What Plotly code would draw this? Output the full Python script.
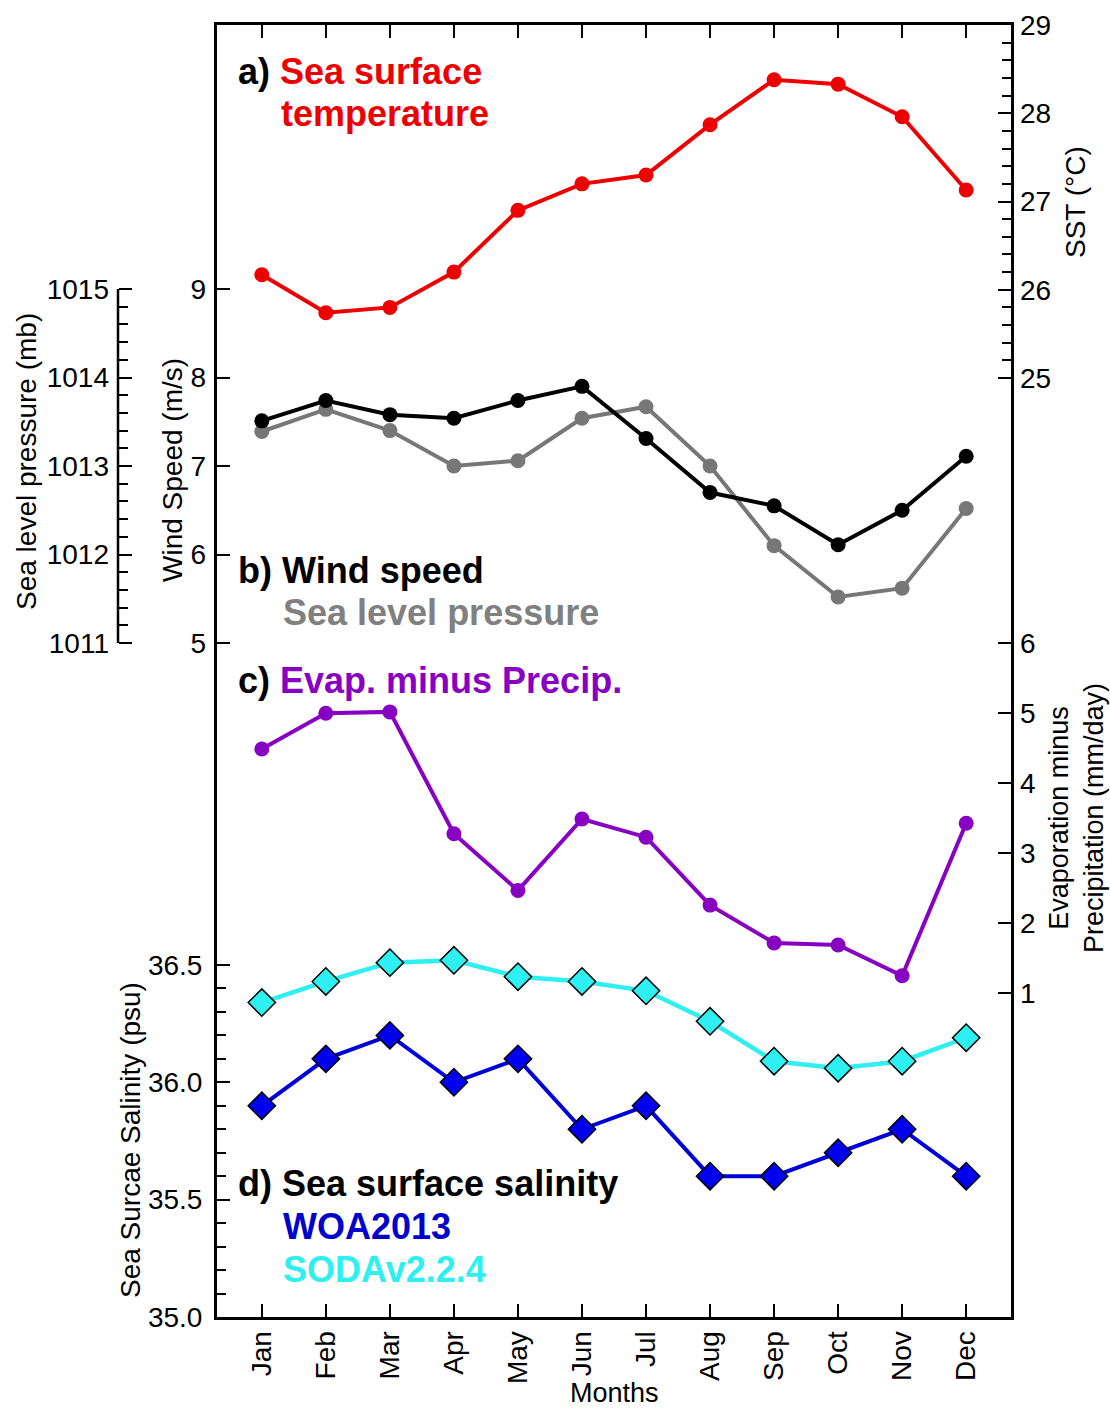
import plotly.graph_objects as go

# ---------------- data ----------------
months = ["Jan", "Feb", "Mar", "Apr", "May", "Jun", "Jul", "Aug", "Sep", "Oct", "Nov", "Dec"]
sst = [26.17, 25.74, 25.80, 26.20, 26.90, 27.20, 27.30, 27.87, 28.38, 28.33, 27.96, 27.13]
wind = [7.51, 7.74, 7.58, 7.54, 7.74, 7.90, 7.31, 6.70, 6.55, 6.11, 6.50, 7.11]
slp = [1013.39, 1013.64, 1013.40, 1013.00, 1013.06, 1013.54, 1013.67, 1013.00,
       1012.10, 1011.52, 1011.62, 1012.52]
emp = [4.49, 5.00, 5.02, 3.28, 2.47, 3.49, 3.23, 2.26, 1.72, 1.69, 1.25, 3.43]
sss_woa = [35.9, 36.1, 36.2, 36.0, 36.1, 35.8, 35.9, 35.6, 35.6, 35.7, 35.8, 35.6]
sss_soda = [36.34, 36.43, 36.51, 36.52, 36.45, 36.43, 36.39, 36.26, 36.09, 36.06, 36.09, 36.19]

sst_ticks = [25, 26, 27, 28, 29]
sst_minor = [25.2, 25.4, 25.6, 25.8, 26.2, 26.4, 26.6, 26.8, 27.2, 27.4, 27.6, 27.8,
             28.2, 28.4, 28.6, 28.8]
wind_ticks = [5, 6, 7, 8, 9]
slp_ticks = [1011, 1012, 1013, 1014, 1015]
slp_minor = [1011.2, 1011.4, 1011.6, 1011.8, 1012.2, 1012.4, 1012.6, 1012.8,
             1013.2, 1013.4, 1013.6, 1013.8, 1014.2, 1014.4, 1014.6, 1014.8]
emp_ticks = [1, 2, 3, 4, 5, 6]
sss_ticks = [35.0, 35.5, 36.0, 36.5]
sss_ticktext = ["35.0", "35.5", "36.0", "36.5"]
sss_minor = [35.1, 35.2, 35.3, 35.4, 35.6, 35.7, 35.8, 35.9, 36.1, 36.2, 36.3, 36.4]

# ---------------- geometry ----------------
W, H = 1110, 1411
L, R, T, B = 118, 1011, 25, 1317       # plot area in pixels
FRAME_L = 217                           # left edge of the boxed panel


def axis_range(v_ref, p_ref, px_per_unit):
    lo = v_ref - (B - p_ref) / px_per_unit
    hi = v_ref + (p_ref - T) / px_per_unit
    return [lo, hi]


def px2x(px):
    return (px - L) / (R - L)


def px2y(py):
    return (B - py) / (B - T)


FONT = "Liberation Sans, Arial, Helvetica, sans-serif"
RED = "#ee0000"
GRAY = "#777777"
PURPLE = "#8800c2"
BLUE = "#0000d8"
CYAN = "#2ef0f0"

tick_common = dict(ticks="inside", ticklen=13, tickwidth=2, tickcolor="black",
                   tickfont=dict(family=FONT, size=28, color="black"),
                   showgrid=False, zeroline=False, automargin=False)

fig = go.Figure()

LW = 4
MS = 15
fig.add_trace(go.Scatter(x=months, y=slp, yaxis="y2", mode="lines+markers",
                         line=dict(color=GRAY, width=LW),
                         marker=dict(size=MS, color=GRAY), cliponaxis=False))
fig.add_trace(go.Scatter(x=months, y=wind, yaxis="y3", mode="lines+markers",
                         line=dict(color="black", width=LW),
                         marker=dict(size=MS, color="black"), cliponaxis=False))
fig.add_trace(go.Scatter(x=months, y=sst, yaxis="y4", mode="lines+markers",
                         line=dict(color=RED, width=LW),
                         marker=dict(size=MS, color=RED), cliponaxis=False))
fig.add_trace(go.Scatter(x=months, y=emp, yaxis="y5", mode="lines+markers",
                         line=dict(color=PURPLE, width=LW),
                         marker=dict(size=MS, color=PURPLE), cliponaxis=False))
fig.add_trace(go.Scatter(x=months, y=sss_soda, yaxis="y", mode="lines+markers",
                         line=dict(color=CYAN, width=LW + 0.5),
                         marker=dict(symbol="diamond", size=21, color=CYAN,
                                     line=dict(color="black", width=1.5)),
                         cliponaxis=False))
fig.add_trace(go.Scatter(x=months, y=sss_woa, yaxis="y", mode="lines+markers",
                         line=dict(color=BLUE, width=LW),
                         marker=dict(symbol="diamond", size=21, color="#0000ee",
                                     line=dict(color="black", width=1.5)),
                         cliponaxis=False))

fig.update_layout(
    width=W, height=H,
    margin=dict(l=L, r=W - R, t=T, b=H - B, pad=0),
    template="none",
    paper_bgcolor="white", plot_bgcolor="white",
    showlegend=False,
    font=dict(family=FONT, size=28, color="black"),
    xaxis=dict(domain=[px2x(FRAME_L), 1], anchor="y", type="category",
               range=[-0.7, 11.7], tickangle=-90, showline=True, linewidth=3,
               linecolor="black", mirror="ticks", ticklabelstandoff=0,
               **tick_common),
    yaxis=dict(domain=[0, 1], anchor="x", side="left",
               range=axis_range(35.0, 1317, 234.67),
               tickvals=sss_ticks, ticktext=sss_ticktext,
               showline=True, linewidth=3, linecolor="black", mirror=True,
               ticklabelstandoff=6,
               minor=dict(tickvals=sss_minor, ticks="inside", ticklen=9,
                          tickwidth=2, tickcolor="black"),
               **tick_common),
    yaxis2=dict(overlaying="y", anchor="free", position=0, side="left",
                range=axis_range(1015, 289, 88.5), tickvals=slp_ticks,
                showline=False, ticklabelstandoff=9,
                minor=dict(tickvals=slp_minor, ticks="inside", ticklen=9,
                           tickwidth=2, tickcolor="black"),
                **tick_common),
    yaxis3=dict(overlaying="y", anchor="x", side="left",
                range=axis_range(9, 289, 88.5), tickvals=wind_ticks,
                showline=False, ticklabelstandoff=10, **tick_common),
    yaxis4=dict(overlaying="y", anchor="x", side="right",
                range=axis_range(29, 25, 88.25), tickvals=sst_ticks,
                showline=False, ticklabelstandoff=8,
                minor=dict(tickvals=sst_minor, ticks="inside", ticklen=9,
                           tickwidth=2, tickcolor="black"),
                **tick_common),
    yaxis5=dict(overlaying="y", anchor="x", side="right",
                range=axis_range(6, 643.3, 70), tickvals=emp_ticks,
                showline=False, ticklabelstandoff=8, **tick_common),
)

# separate pressure axis line
fig.add_shape(type="line", xref="paper", yref="y2", x0=0, x1=0,
              y0=slp_ticks[0], y1=slp_ticks[-1],
              line=dict(color="black", width=2.5))


def ann(text, px, py, size=36, color="black", bold=True, xanchor="left",
        angle=0, align="left"):
    fig.add_annotation(text=(f"<b>{text}</b>" if bold else text),
                       xref="paper", yref="paper", x=px2x(px), y=px2y(py),
                       xanchor=xanchor, yanchor="middle", showarrow=False,
                       textangle=angle, align=align,
                       font=dict(family=FONT, size=size, color=color))


# panel labels
ann(f"a) <span style='color:{RED}'>Sea surface</span>", 236, 72)
ann("temperature", 279, 113, color=RED)
ann("b) Wind speed", 236, 570)
ann("Sea level pressure", 281, 612, color="#808080")
ann(f"c) <span style='color:{PURPLE}'>Evap. minus Precip.</span>", 236, 680)
ann("d) Sea surface salinity", 236, 1183)
ann("WOA2013", 281, 1226, color="#0000cc")
ann("SODAv2.2.4", 281, 1269, color=CYAN)

# axis titles
ann("SST (°C)", 1075, 202, size=28, bold=False, xanchor="center", angle=-90)
ann("Wind Speed (m/s)", 172, 470, size=28, bold=False, xanchor="center", angle=-90)
ann("Sea level pressure (mb)", 26, 462, size=28, bold=False, xanchor="center", angle=-90)
ann("Evaporation minus<br>Precipitation (mm/day)", 1076, 818, size=27, bold=False,
    xanchor="center", angle=-90, align="center")
ann("Sea Surcae Salinity (psu)", 130, 1140, size=28, bold=False, xanchor="center", angle=-90)
ann("Months", 614, 1393, size=27, bold=False, xanchor="center")

fig.write_html("out.html")
